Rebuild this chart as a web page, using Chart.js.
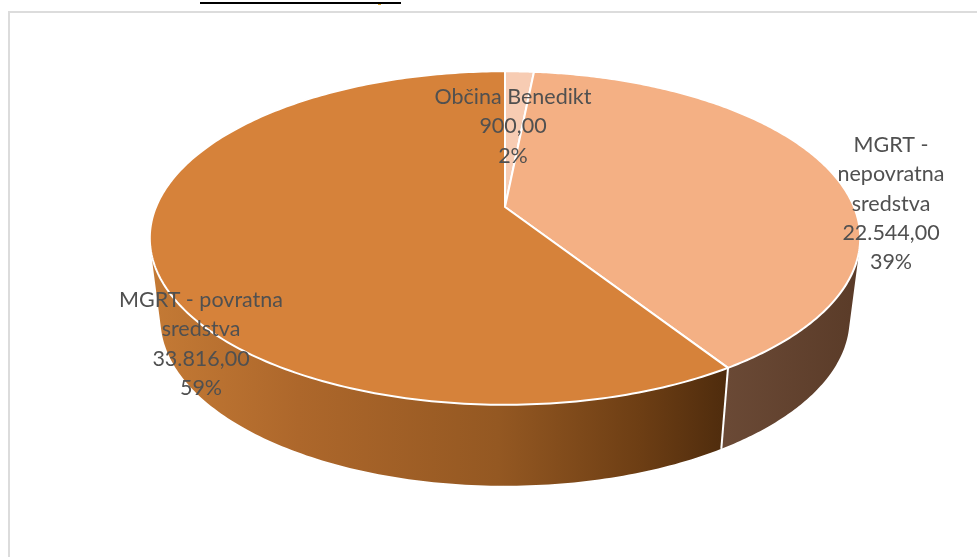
<!DOCTYPE html>
<html>
<head>
<meta charset="utf-8">
<title>Viri financiranja</title>
<script src="https://cdn.jsdelivr.net/npm/chart.js@4"></script>
<style>
    html, body { margin: 0; padding: 0; background: #fff; }
    canvas { display: block; }
</style>
</head>
<body>
<canvas id="pie" width="977" height="557"></canvas>
<script>
const categories = ['Občina Benedikt', 'MGRT - nepovratna sredstva', 'MGRT - povratna sredstva'];
const values = [900, 22544, 33816];
const labelLines = [['Občina Benedikt'], ['MGRT -', 'nepovratna', 'sredstva'], ['MGRT - povratna', 'sredstva']];
const faceColors = ['#f7ccb3', '#f4b084', '#d6823a'];

// Look of the 3D disc
const APEX = { x: 505, y: 207 };
const RADIUS_X = 349, RADIUS_Y = 161, PERSPECTIVE = -0.186;
const DEPTH = 81, BOTTOM_SCALE = 0.97;
const labelAnchors = [{ x: 513, y: 97 }, { x: 891, y: 145 }, { x: 201, y: 300 }];
const LINE_HEIGHT = 29.3;

// Angle on the flat pie -> point on the tilted disc
const project = (angle, lower) => {
    const w = 1 + PERSPECTIVE * Math.sin(angle);
    const x = RADIUS_X * Math.cos(angle) / w;
    const y = RADIUS_Y * Math.sin(angle) / w;
    return lower
        ? { x: APEX.x + x * BOTTOM_SCALE, y: APEX.y + y + DEPTH }
        : { x: APEX.x + x, y: APEX.y + y };
};

const sideGradient = (ctx, index) => {
    const g = ctx.createLinearGradient(150, 0, 860, 0);
    if (index === 1) {
        g.addColorStop(0, '#6b4a36');
        g.addColorStop(0.8, '#6b4a36');
        g.addColorStop(1, '#5a3b28');
    } else {
        g.addColorStop(0, '#c47a35');
        g.addColorStop(0.21, '#ad672b');
        g.addColorStop(0.49, '#945822');
        g.addColorStop(0.69, '#6d3e14');
        g.addColorStop(0.81, '#4f2c0d');
        g.addColorStop(1, '#4f2c0d');
    }
    return g;
};

const formatValue = v => {
    const whole = String(v).replace(/\B(?=(\d{3})+$)/g, '.');
    return whole + ',00';
};

const frame = {
    id: 'frame',
    beforeDraw(chart) {
        const ctx = chart.ctx;
        ctx.save();
        ctx.fillStyle = '#000';
        ctx.fillRect(200, 2, 201, 2);
        ctx.fillStyle = '#d9a227';
        ctx.fillRect(378, 4, 3, 1);
        ctx.strokeStyle = '#dcdcdc';
        ctx.lineWidth = 2;
        ctx.beginPath();
        ctx.moveTo(9, 557);
        ctx.lineTo(9, 12);
        ctx.lineTo(977, 12);
        ctx.stroke();
        ctx.restore();
    }
};

const disc = {
    id: 'disc',
    beforeDatasetDraw(chart, args) {
        const ctx = chart.ctx;
        const arcs = args.meta.data;
        const steps = 240;
        ctx.save();

        // side wall first, the top face covers whatever is behind it
        arcs.forEach((arc, i) => {
            const sweep = arc.endAngle - arc.startAngle;
            ctx.beginPath();
            for (let s = 0; s < steps; s++) {
                const a0 = arc.startAngle + sweep * s / steps;
                const a1 = arc.startAngle + sweep * (s + 1) / steps;
                let quad = [project(a0), project(a1), project(a1, true), project(a0, true)];
                // keep every quad the same way round so overlaps stay filled
                let area = 0;
                quad.forEach((q, k) => {
                    const n = quad[(k + 1) % 4];
                    area += q.x * n.y - n.x * q.y;
                });
                if (area < 0) quad = quad.reverse();
                quad.forEach((q, k) => k ? ctx.lineTo(q.x, q.y) : ctx.moveTo(q.x, q.y));
                ctx.closePath();
            }
            ctx.fillStyle = sideGradient(ctx, i);
            ctx.fill();
        });

        // white cut on the wall where two slices meet at the front
        ctx.strokeStyle = '#fff';
        ctx.lineWidth = 2;
        arcs.forEach(arc => {
            if (Math.sin(arc.endAngle) > 0) {
                const top = project(arc.endAngle);
                const bottom = project(arc.endAngle, true);
                ctx.beginPath();
                ctx.moveTo(top.x, top.y);
                ctx.lineTo(bottom.x, bottom.y);
                ctx.stroke();
            }
        });

        // top face
        ctx.lineJoin = 'round';
        arcs.forEach((arc, i) => {
            const sweep = arc.endAngle - arc.startAngle;
            ctx.beginPath();
            ctx.moveTo(APEX.x, APEX.y);
            for (let s = 0; s <= steps; s++) {
                const p = project(arc.startAngle + sweep * s / steps);
                ctx.lineTo(p.x, p.y);
            }
            ctx.closePath();
            ctx.fillStyle = faceColors[i];
            ctx.fill();
            ctx.stroke();
        });

        ctx.restore();
        return false;
    },
    afterDraw(chart) {
        const ctx = chart.ctx;
        const total = values.reduce((a, b) => a + b, 0);
        ctx.save();
        ctx.font = '21.5px Lato, "Open Sans", sans-serif';
        ctx.fillStyle = '#505050';
        ctx.textAlign = 'center';
        ctx.textBaseline = 'middle';
        values.forEach((v, i) => {
            const lines = [...labelLines[i], formatValue(v), Math.round(v / total * 100) + '%'];
            lines.forEach((line, k) => {
                ctx.fillText(line, labelAnchors[i].x, labelAnchors[i].y + k * LINE_HEIGHT);
            });
        });
        ctx.restore();
    }
};

new Chart(document.getElementById('pie'), {
    type: 'pie',
    data: {
        labels: categories,
        datasets: [{ data: values, backgroundColor: faceColors, borderWidth: 0 }]
    },
    options: {
        responsive: false,
        animation: false,
        plugins: {
            legend: { display: false },
            tooltip: { enabled: false }
        }
    },
    plugins: [frame, disc]
});
</script>
</body>
</html>
